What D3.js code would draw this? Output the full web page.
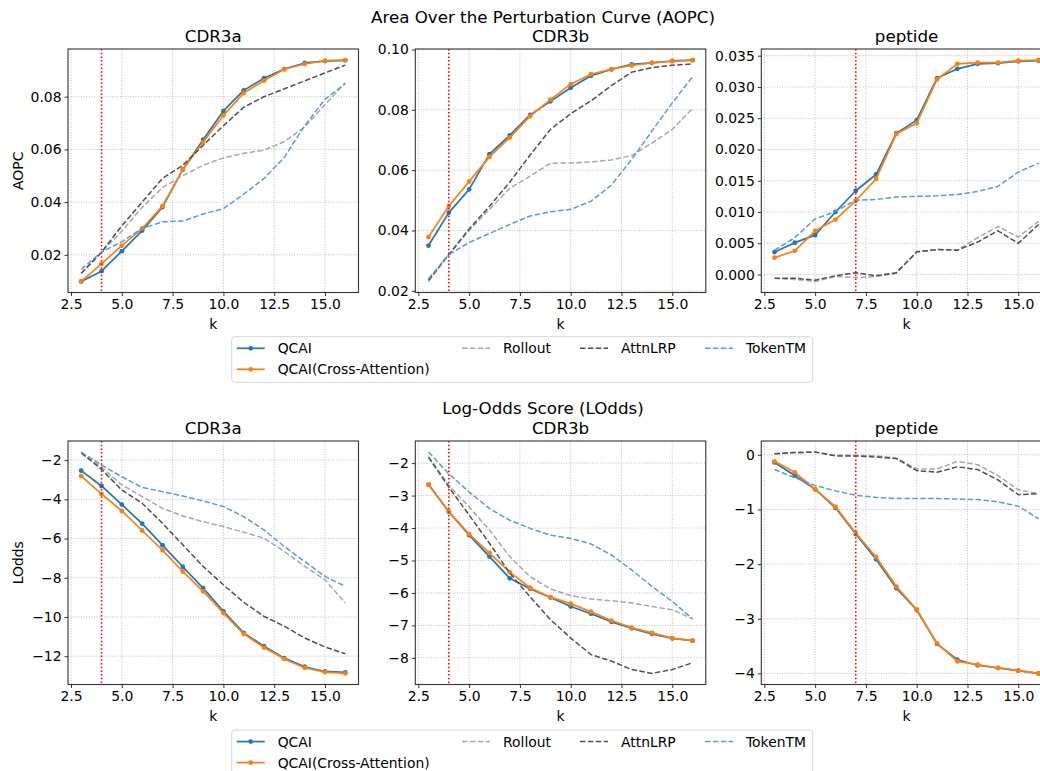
<!DOCTYPE html>
<html><head><meta charset="utf-8">
<script src="https://cdn.jsdelivr.net/npm/d3@7"></script>
<style>body{margin:0;background:#fff}svg{display:block;font-family:"DejaVu Sans",sans-serif}</style>
</head><body><svg id="c" width="1040" height="771"></svg>
<script>
// ---------- data ----------
const ks = [3,4,5,6,7,8,9,10,11,12,13,14,15,16];
const xTicks = [2.5,5,7.5,10,12.5,15];
const seriesNames = ["QCAI","QCAI(Cross-Attention)","Rollout","AttnLRP","TokenTM"];
const panelTitles = ["CDR3a","CDR3b","peptide"];
const rowTitles = ["Area Over the Perturbation Curve (AOPC)","Log-Odds Score (LOdds)"];
const rowYLabels = ["AOPC","LOdds"];
const kCut = [4,4,7];

// AOPC
const aopcA_qcai    = [0.0099,0.0138,0.0214,0.0292,0.0381,0.0523,0.0637,0.0746,0.0824,0.0870,0.0905,0.0928,0.0935,0.0938];
const aopcA_qcaiCA  = [0.0099,0.0166,0.0235,0.0300,0.0385,0.0523,0.0628,0.0729,0.0814,0.0861,0.0904,0.0924,0.0937,0.0939];
const aopcA_rollout = [0.0128,0.0210,0.0290,0.0380,0.0455,0.0500,0.0540,0.0568,0.0585,0.0597,0.0630,0.0685,0.0770,0.0853];
const aopcA_attn    = [0.0130,0.0210,0.0310,0.0400,0.0490,0.0540,0.0615,0.0690,0.0760,0.0800,0.0830,0.0860,0.0890,0.0920];
const aopcA_token   = [0.0145,0.0210,0.0250,0.0300,0.0325,0.0328,0.0355,0.0375,0.0430,0.0490,0.0570,0.0690,0.0790,0.0850];

const aopcB_qcai    = [0.0350,0.0459,0.0536,0.0653,0.0715,0.0783,0.0828,0.0873,0.0913,0.0934,0.0951,0.0956,0.0962,0.0965];
const aopcB_qcaiCA  = [0.0378,0.0481,0.0562,0.0644,0.0708,0.0779,0.0834,0.0885,0.0918,0.0935,0.0947,0.0956,0.0961,0.0964];
const aopcB_rollout = [0.0231,0.0320,0.0400,0.0470,0.0540,0.0580,0.0623,0.0624,0.0627,0.0634,0.0648,0.0690,0.0735,0.0805];
const aopcB_attn    = [0.0235,0.0320,0.0405,0.0480,0.0560,0.0650,0.0735,0.0787,0.0830,0.0880,0.0925,0.0940,0.0948,0.0952];
const aopcB_token   = [0.0240,0.0320,0.0360,0.0390,0.0420,0.0448,0.0462,0.0470,0.0497,0.0550,0.0635,0.0730,0.0823,0.0910];

const aopcP_qcai    = [0.0036,0.0051,0.0063,0.0100,0.0134,0.0160,0.0226,0.0247,0.0314,0.0329,0.0337,0.0338,0.0341,0.0342];
const aopcP_qcaiCA  = [0.0027,0.0038,0.0070,0.0088,0.0118,0.0153,0.0225,0.0242,0.0312,0.0337,0.0339,0.0339,0.0342,0.0343];
const aopcP_rollout = [-0.0006,-0.0008,-0.0011,-0.0003,-0.0005,-0.0003,0.0002,0.0037,0.0040,0.0039,0.0059,0.0077,0.0060,0.0085];
const aopcP_attn    = [-0.0006,-0.0006,-0.0009,-0.0002,0.0003,-0.0002,0.0003,0.0036,0.0040,0.0039,0.0052,0.0070,0.0050,0.0080];
const aopcP_token   = [0.0039,0.0059,0.0089,0.0101,0.0119,0.0120,0.0124,0.0125,0.0126,0.0128,0.0133,0.0141,0.0164,0.0178];

// LOdds
const loddsA_qcai    = [-2.54,-3.32,-4.27,-5.24,-6.34,-7.44,-8.53,-9.71,-10.81,-11.49,-12.10,-12.54,-12.78,-12.83];
const loddsA_qcaiCA  = [-2.81,-3.73,-4.59,-5.59,-6.59,-7.68,-8.69,-9.80,-10.86,-11.56,-12.14,-12.59,-12.81,-12.88];
const loddsA_rollout = [-1.63,-2.37,-3.27,-3.86,-4.46,-4.85,-5.14,-5.39,-5.68,-5.98,-6.66,-7.42,-8.10,-9.29];
const loddsA_attn    = [-1.63,-2.47,-3.53,-4.20,-5.22,-6.32,-7.42,-8.36,-9.25,-9.97,-10.47,-11.07,-11.53,-11.88];
const loddsA_token   = [-1.59,-2.25,-2.85,-3.39,-3.61,-3.83,-4.08,-4.37,-4.88,-5.56,-6.41,-7.17,-7.93,-8.44];

const loddsB_qcai    = [-2.66,-3.50,-4.22,-4.88,-5.55,-5.87,-6.14,-6.42,-6.64,-6.89,-7.09,-7.26,-7.40,-7.47];
const loddsB_qcaiCA  = [-2.66,-3.49,-4.19,-4.77,-5.36,-5.84,-6.13,-6.33,-6.58,-6.85,-7.07,-7.23,-7.39,-7.47];
const loddsB_rollout = [-1.80,-2.68,-3.35,-4.06,-4.88,-5.50,-5.88,-6.08,-6.19,-6.24,-6.31,-6.42,-6.52,-6.80];
const loddsB_attn    = [-1.82,-2.74,-3.60,-4.47,-5.39,-6.12,-6.82,-7.39,-7.90,-8.10,-8.36,-8.48,-8.36,-8.15];
const loddsB_token   = [-1.66,-2.33,-2.89,-3.40,-3.76,-4.01,-4.22,-4.32,-4.49,-4.83,-5.29,-5.80,-6.26,-6.80];

const loddsP_qcai    = [-0.14,-0.38,-0.63,-0.97,-1.45,-1.91,-2.44,-2.84,-3.46,-3.75,-3.85,-3.90,-3.95,-4.00];
const loddsP_qcaiCA  = [-0.12,-0.32,-0.63,-0.95,-1.43,-1.87,-2.41,-2.83,-3.45,-3.78,-3.84,-3.90,-3.95,-4.00];
const loddsP_rollout = [0.02,0.04,0.05,-0.01,-0.01,-0.02,-0.06,-0.26,-0.26,-0.12,-0.18,-0.38,-0.64,-0.71];
const loddsP_attn    = [0.02,0.04,0.05,-0.02,-0.02,-0.04,-0.07,-0.29,-0.32,-0.22,-0.27,-0.46,-0.73,-0.71];
const loddsP_token   = [-0.27,-0.42,-0.56,-0.66,-0.74,-0.78,-0.80,-0.80,-0.80,-0.81,-0.82,-0.86,-0.94,-1.17];

// y tick values
const yTicksAOPC_A = [0.02,0.04,0.06,0.08];
const yTicksAOPC_B = [0.02,0.04,0.06,0.08,0.10];
const yTicksAOPC_P = [0.000,0.005,0.010,0.015,0.020,0.025,0.030,0.035];
const yTicksLOdds_A = [-2,-4,-6,-8,-10,-12];
const yTicksLOdds_B = [-2,-3,-4,-5,-6,-7,-8];
const yTicksLOdds_P = [0,-1,-2,-3,-4];

// ---------- layout / style ----------
const panels = [
  [ {s:[aopcA_qcai,aopcA_qcaiCA,aopcA_rollout,aopcA_attn,aopcA_token], t:yTicksAOPC_A, f:".2f"},
    {s:[aopcB_qcai,aopcB_qcaiCA,aopcB_rollout,aopcB_attn,aopcB_token], t:yTicksAOPC_B, f:".2f"},
    {s:[aopcP_qcai,aopcP_qcaiCA,aopcP_rollout,aopcP_attn,aopcP_token], t:yTicksAOPC_P, f:".3f"} ],
  [ {s:[loddsA_qcai,loddsA_qcaiCA,loddsA_rollout,loddsA_attn,loddsA_token], t:yTicksLOdds_A, f:"d"},
    {s:[loddsB_qcai,loddsB_qcaiCA,loddsB_rollout,loddsB_attn,loddsB_token], t:yTicksLOdds_B, f:"d"},
    {s:[loddsP_qcai,loddsP_qcaiCA,loddsP_rollout,loddsP_attn,loddsP_token], t:yTicksLOdds_P, f:"d"} ]
];
const styles = [
  {color:"#1f77b4", dash:null, w:1.7, marker:true},
  {color:"#ff7f0e", dash:null, w:1.7, marker:true},
  {color:"#a8a8a8", dash:"5.5,2.4", w:1.5},
  {color:"#4f4f4f", dash:"5.5,2.4", w:1.5},
  {color:"#5b9bd5", dash:"5.5,2.4", w:1.5}
];
const colX = [68, 415.3, 761.3], PW = 290.5;
const rowY = [49, 441], PH = 243.5;
const supY = [22.5, 413.5];
const legTop = [336.7, 730];
const legLeft = 231.7, legRight = 812.7;
const legCols = [236.7, 462, 580, 705];
const FS = 13.9, TFS = 16.7;

const svg = d3.select("#c");
svg.append("rect").attr("width",1040).attr("height",771).attr("fill","#fff");
const defs = svg.append("defs");

panels.forEach((row, r) => {
  svg.append("text").attr("x", 543).attr("y", supY[r]).attr("text-anchor","middle")
    .attr("font-size", TFS).attr("fill","#000").text(rowTitles[r]);
  row.forEach((p, c) => {
    const x0 = colX[c], y0 = rowY[r];
    const g = svg.append("g").attr("transform", `translate(${x0},${y0})`);
    const x = d3.scaleLinear().domain([2.35, 16.65]).range([0, PW]);
    const all = p.s.flat();
    const mn = d3.min(all), mx = d3.max(all), pad = (mx - mn) * 0.05;
    const y = d3.scaleLinear().domain([mn - pad, mx + pad]).range([PH, 0]);
    const cid = `clip${r}${c}`;
    defs.append("clipPath").attr("id", cid).append("rect").attr("width", PW).attr("height", PH);

    // grid
    const grid = g.append("g");
    xTicks.forEach(v => grid.append("line").attr("x1", x(v)).attr("x2", x(v)).attr("y1",0).attr("y2",PH)
      .attr("stroke","#b8b8b8").attr("stroke-width",0.9).attr("stroke-dasharray","1,1.6"));
    p.t.forEach(v => grid.append("line").attr("x1",0).attr("x2",PW).attr("y1",y(v)).attr("y2",y(v))
      .attr("stroke","#b8b8b8").attr("stroke-width",0.9).attr("stroke-dasharray","1,1.6"));

    // axes
    const xa = g.append("g").attr("transform",`translate(0,${PH})`)
      .call(d3.axisBottom(x).tickValues(xTicks).tickFormat(d3.format(".1f")).tickSizeOuter(0).tickSize(3.5).tickPadding(3));
    const ya = g.append("g")
      .call(d3.axisLeft(y).tickValues(p.t).tickFormat(d3.format(p.f)).tickSizeOuter(0).tickSize(3.5).tickPadding(3));
    [xa, ya].forEach(a => {
      a.select(".domain").remove();
      a.selectAll("text").attr("font-size", FS).attr("fill","#000").attr("font-family","DejaVu Sans");
      a.selectAll("line").attr("stroke","#333");
    });

    // lines
    const plot = g.append("g").attr("clip-path", `url(#${cid})`);
    const line = d3.line().x((d,i) => x(ks[i])).y(d => y(d));
    p.s.forEach((vals, si) => {
      const st = styles[si];
      plot.append("path").datum(vals).attr("d", line).attr("fill","none")
        .attr("stroke", st.color).attr("stroke-width", st.w)
        .attr("stroke-dasharray", st.dash).attr("stroke-linejoin","round");
      if (st.marker) {
        plot.selectAll(null).data(vals).enter().append("circle")
          .attr("cx",(d,i)=>x(ks[i])).attr("cy",d=>y(d)).attr("r",2.4).attr("fill",st.color);
      }
    });
    // vertical cut line
    plot.append("line").attr("x1", x(kCut[c])).attr("x2", x(kCut[c])).attr("y1",0).attr("y2",PH)
      .attr("stroke","#ff0000").attr("stroke-width",1.6).attr("stroke-dasharray","1.5,2.2");

    // frame
    g.append("rect").attr("width",PW).attr("height",PH).attr("fill","none")
      .attr("stroke","#333").attr("stroke-width",1.1);

    // titles & labels
    g.append("text").attr("x", PW/2).attr("y", -7).attr("text-anchor","middle")
      .attr("font-size", TFS).attr("fill","#000").text(panelTitles[c]);
    g.append("text").attr("x", PW/2).attr("y", PH + 36).attr("text-anchor","middle")
      .attr("font-size", FS).attr("fill","#000").text("k");
    if (c === 0) {
      svg.append("text").attr("transform", `translate(${23},${y0 + PH/2}) rotate(-90)`)
        .attr("text-anchor","middle").attr("font-size", FS).attr("fill","#000").text(rowYLabels[r]);
    }
  });

  // legend
  const lg = svg.append("g");
  lg.append("rect").attr("x", legLeft).attr("y", legTop[r]).attr("width", legRight-legLeft).attr("height", 45.6)
    .attr("rx", 3).attr("fill","#fff").attr("fill-opacity",0.8).attr("stroke","#d6d6d6").attr("stroke-width",1);
  const pos = [[0,0],[0,1],[1,0],[2,0],[3,0]];
  seriesNames.forEach((nm, si) => {
    const st = styles[si];
    const hx = legCols[pos[si][0]], hy = legTop[r] + 11.6 + pos[si][1]*21;
    lg.append("line").attr("x1", hx).attr("x2", hx+28).attr("y1", hy).attr("y2", hy)
      .attr("stroke", st.color).attr("stroke-width", st.w).attr("stroke-dasharray", st.dash);
    if (st.marker) lg.append("circle").attr("cx", hx+14).attr("cy", hy).attr("r", 2.4).attr("fill", st.color);
    lg.append("text").attr("x", hx + 41).attr("y", hy).attr("dy","0.36em")
      .attr("font-size", FS).attr("fill","#000").text(nm);
  });
});
</script></body></html>
